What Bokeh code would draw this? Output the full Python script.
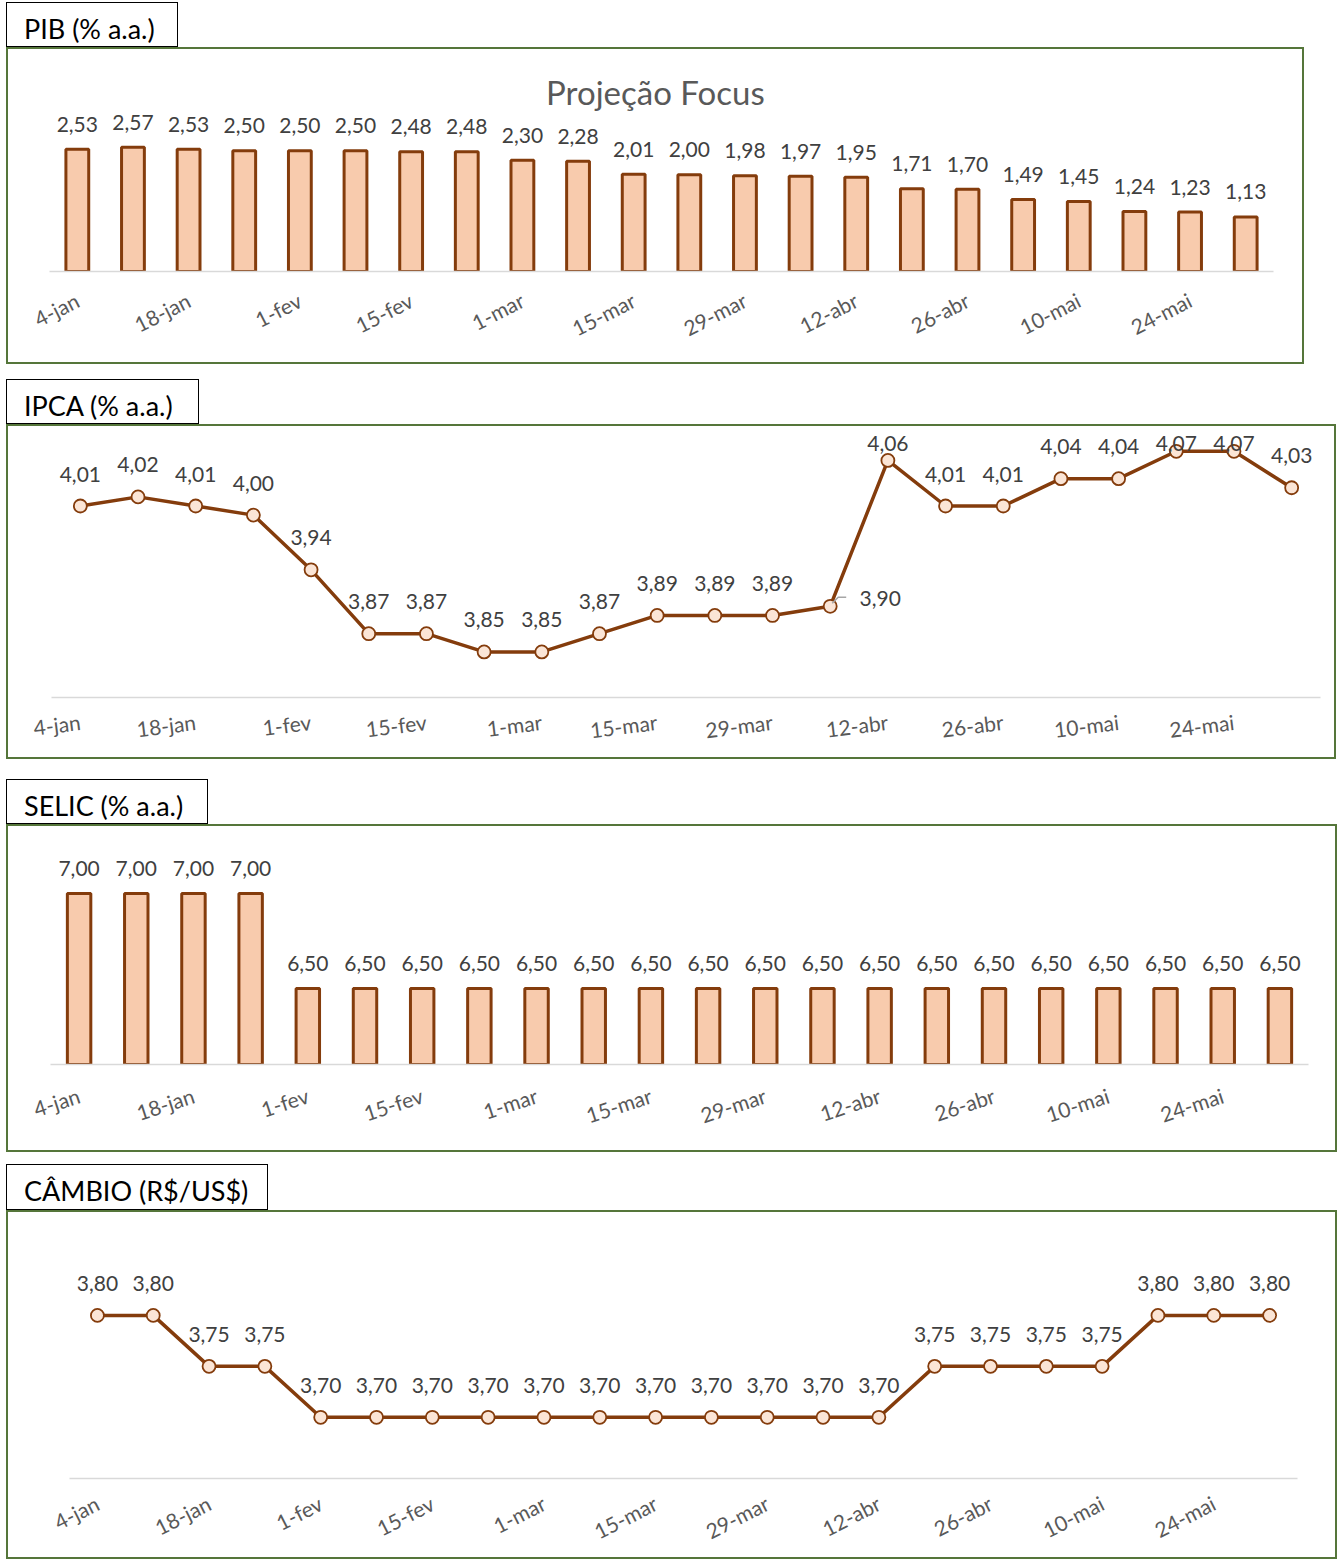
import math
import numpy as np
from bokeh.plotting import figure
from bokeh.models import Range1d, FixedTicker, Div, Label, ColumnDataSource
from bokeh.layouts import column
from bokeh.embed import file_html
from bokeh.resources import INLINE
from bokeh.core.properties import value

# ---------------- data ----------------
weeks = ["4-jan", "11-jan", "18-jan", "25-jan", "1-fev", "8-fev", "15-fev", "22-fev",
         "1-mar", "8-mar", "15-mar", "22-mar", "29-mar", "5-abr", "12-abr", "19-abr",
         "26-abr", "3-mai", "10-mai", "17-mai", "24-mai", "31-mai"]
tick_labels = ["4-jan", "18-jan", "1-fev", "15-fev", "1-mar", "15-mar", "29-mar",
               "12-abr", "26-abr", "10-mai", "24-mai"]

pib = [2.53, 2.57, 2.53, 2.50, 2.50, 2.50, 2.48, 2.48, 2.30, 2.28, 2.01,
       2.00, 1.98, 1.97, 1.95, 1.71, 1.70, 1.49, 1.45, 1.24, 1.23, 1.13]
ipca = [4.01, 4.02, 4.01, 4.00, 3.94, 3.87, 3.87, 3.85, 3.85, 3.87, 3.89,
        3.89, 3.89, 3.90, 4.06, 4.01, 4.01, 4.04, 4.04, 4.07, 4.07, 4.03]
selic = [7.00, 7.00, 7.00, 7.00, 6.50, 6.50, 6.50, 6.50, 6.50, 6.50, 6.50,
         6.50, 6.50, 6.50, 6.50, 6.50, 6.50, 6.50, 6.50, 6.50, 6.50, 6.50]
cambio = [3.80, 3.80, 3.75, 3.75, 3.70, 3.70, 3.70, 3.70, 3.70, 3.70, 3.70,
          3.70, 3.70, 3.70, 3.70, 3.75, 3.75, 3.75, 3.75, 3.80, 3.80, 3.80]

# ---------------- style ----------------
FONT = "Lato"
BROWN = "#843c0c"
PEACH = "#f8cbad"
MARKER_FILL = "#fbe5d6"
BORDER = "#55763a"
LABEL_COL = "#404040"
TICK_COL = "#595959"

x = list(range(len(weeks)))


def fmt(v):
    return f"{v:.2f}".replace(".", ",")


def make_fig(width, height, ylo, yhi, mbl, mbr, mbt, mbb, angle_deg, standoff):
    p = figure(width=width, height=height, title=None,
               x_range=Range1d(-0.5, len(weeks) - 0.5), y_range=Range1d(ylo, yhi),
               output_backend="svg", toolbar_location=None, y_axis_location=None,
               min_border_left=mbl, min_border_right=mbr, min_border_top=mbt,
               min_border_bottom=mbb, margin=(0, 0, 0, 0))
    p.grid.visible = False
    p.outline_line_color = None
    p.background_fill_color = "white"
    p.border_fill_color = "white"
    ax = p.xaxis[0]
    ax.ticker = FixedTicker(ticks=[weeks.index(t) for t in tick_labels])
    ax.major_label_overrides = {weeks.index(t): t for t in tick_labels}
    ax.major_label_orientation = math.radians(angle_deg)
    ax.major_label_text_align = "right"
    ax.axis_line_color = "#d9d9d9"
    ax.axis_line_width = 1.5
    ax.major_tick_line_color = None
    ax.minor_tick_line_color = None
    ax.major_tick_out = 0
    ax.major_tick_in = 0
    ax.minor_tick_out = 0
    ax.minor_tick_in = 0
    ax.major_label_text_font = FONT
    ax.major_label_text_font_size = "21px"
    ax.major_label_text_color = TICK_COL
    ax.major_label_standoff = standoff
    return p


def boxed(p):
    return column(p, margin=(0, 0, 0, 0), styles={"border": f"2px solid {BORDER}"})


def tab(text, width, height, top_gap):
    return Div(text=f'<div style="font-family:Lato;font-size:27px;line-height:26px;'
                    f'color:#000;padding:14px 0 0 18px;white-space:nowrap">{text}</div>',
               width=width, height=height, margin=(top_gap, 0, 0, 0),
               styles={"outline": "1.5px solid #000", "outline-offset": "-1.5px",
                       "background": "white"})


def bar_panel(p, vals, bottom):
    src = ColumnDataSource(dict(x=x, top=vals, lab=[fmt(v) for v in vals]))
    p.vbar(x="x", top="top", bottom=bottom, width=0.41, source=src,
           fill_color=PEACH, line_color=BROWN, line_width=3)
    p.text(x="x", y="top", text="lab", source=src, text_align="center",
           text_baseline="middle", y_offset=-25, text_font=value(FONT),
           text_font_size="21px", text_color=LABEL_COL)


def line_panel(p, vals):
    src = ColumnDataSource(dict(x=x, y=vals, lab=[fmt(v) for v in vals]))
    p.line(x="x", y="y", source=src, line_color=BROWN, line_width=3.5)
    p.scatter(x="x", y="y", source=src, size=13, fill_color=MARKER_FILL,
              line_color=BROWN, line_width=1.8)
    return src


# ---------------- PIB ----------------
p1 = make_fig(1294, 313, 0, 4.49, 41, 29, 5, 91, 27, 27)
bar_panel(p1, pib, 0)
p1.add_layout(Label(x=10.39, y=3.72, text="Projeção Focus", text_align="center",
                    text_baseline="middle", text_font=FONT, text_font_size="33px",
                    text_color=TICK_COL))

# ---------------- IPCA ----------------
p2 = make_fig(1326, 331, 3.80, 4.0917, 43, 14, 5, 60, 7, 24)
ipca_label_y = list(np.minimum(np.array(ipca), 4.043))
moved = 13  # label pushed to the right with a leader line
main_idx = [i for i in x if i != moved]
line_panel(p2, ipca)
px_x = 1269 / len(weeks)
px_y = 912.0
p2.line(x=[moved + 2 / px_x, moved + 8 / px_x, moved + 16 / px_x],
        y=[ipca[moved] + 3 / px_y, ipca[moved] + 9 / px_y, ipca[moved] + 9 / px_y],
        line_color="#a6a6a6", line_width=1.5)
lab_src = ColumnDataSource(dict(x=[x[i] for i in main_idx], y=[ipca_label_y[i] for i in main_idx],
                                lab=[fmt(ipca[i]) for i in main_idx]))
p2.text(x="x", y="y", text="lab", source=lab_src, text_align="center",
        text_baseline="middle", y_offset=-32, text_font=value(FONT),
        text_font_size="21px", text_color=LABEL_COL)
p2.text(x=[x[moved]], y=[ipca[moved]], text=[fmt(ipca[moved])], text_align="center",
        text_baseline="middle", x_offset=50, y_offset=-8, text_font=value(FONT),
        text_font_size="21px", text_color=LABEL_COL)

# ---------------- SELIC ----------------
selic_axis_min = 6.1
p3 = make_fig(1327, 324, selic_axis_min, 7.326, 42, 27, 5, 86, 18, 30)
bar_panel(p3, selic, selic_axis_min)

# ---------------- CÂMBIO ----------------
p4 = make_fig(1327, 345, 3.64, 3.896, 61, 38, 5, 78, 27, 23)
src4 = line_panel(p4, cambio)
p4.text(x="x", y="y", text="lab", source=src4, text_align="center",
        text_baseline="middle", y_offset=-32, text_font=value(FONT),
        text_font_size="21px", text_color=LABEL_COL)

layout = column(
    tab("PIB (% a.a.)", 172, 45, 0), boxed(p1),
    tab("IPCA (% a.a.)", 193, 45, 15), boxed(p2),
    tab("SELIC (% a.a.)", 202, 45, 20), boxed(p3),
    tab("CÂMBIO (R$/US$)", 262, 46, 12), boxed(p4),
    spacing=0, margin=(2, 0, 0, 6),
)

open("out.html", "w").write(file_html(layout, INLINE))
